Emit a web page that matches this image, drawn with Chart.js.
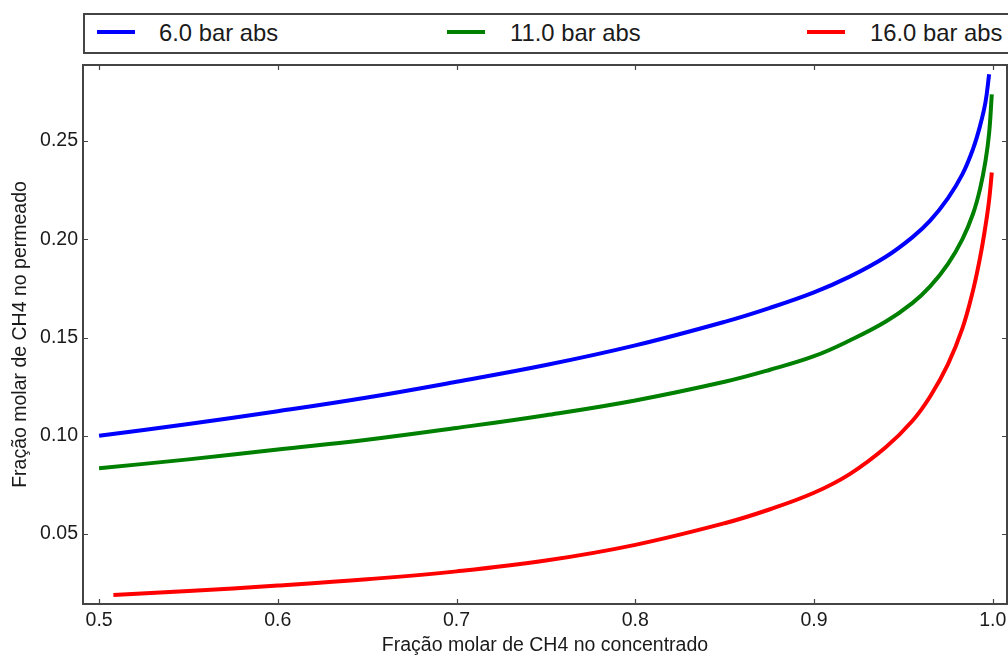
<!DOCTYPE html>
<html>
<head>
<meta charset="utf-8">
<script src="https://cdn.jsdelivr.net/npm/chart.js@4/dist/chart.umd.min.js"></script>
<style>
  html, body { margin: 0; padding: 0; background: #fff; overflow: hidden; }
  #wrap { position: relative; width: 1008px; height: 657px; overflow: hidden; background: #fff; }
  #chart { position: absolute; left: 0; top: 0; }
  #legend { position: absolute; left: 83px; top: 13px; width: 1100px; height: 41px; box-sizing: border-box;
            border: 2px solid #444; background: #fff; }
  .lg-line { position: absolute; height: 4px; width: 38px; top: 30px; }
  .lg-text { position: absolute; top: 18px; font-family: "Liberation Sans", Arial, sans-serif; font-size: 23.8px;
             line-height: 29px; color: #1a1a1a; white-space: nowrap; }
</style>
</head>
<body>
<div id="wrap">
  <canvas id="chart" width="1060" height="657"></canvas>
  <div id="legend"></div>
  <div id="legendItems"></div>
</div>
<script>
// ---- data ----
const seriesLabels = ["6.0 bar abs", "11.0 bar abs", "16.0 bar abs"];
const seriesColors = ["#0000ff", "#008000", "#ff0000"];

const xBlue  = [0.50, 0.55, 0.60, 0.65, 0.70, 0.75, 0.80, 0.85, 0.875, 0.90, 0.92, 0.94, 0.955, 0.965, 0.975, 0.983, 0.989, 0.993, 0.996, 0.998];
const yBlue  = [0.1000, 0.1060, 0.1125, 0.1195, 0.1275, 0.1360, 0.1460, 0.1580, 0.1650, 0.1730, 0.1810, 0.1910, 0.2010, 0.2095, 0.2210, 0.2330, 0.2460, 0.2580, 0.2700, 0.2840];

const xGreen = [0.50, 0.55, 0.60, 0.65, 0.70, 0.75, 0.80, 0.85, 0.875, 0.90, 0.92, 0.94, 0.955, 0.965, 0.975, 0.983, 0.989, 0.993, 0.996, 0.998, 0.9995];
const yGreen = [0.0835, 0.0880, 0.0930, 0.0980, 0.1040, 0.1105, 0.1180, 0.1275, 0.1335, 0.1405, 0.1485, 0.1580, 0.1675, 0.1760, 0.1875, 0.2000, 0.2130, 0.2260, 0.2400, 0.2540, 0.2737];

const xRed   = [0.508, 0.55, 0.60, 0.65, 0.70, 0.75, 0.80, 0.85, 0.875, 0.90, 0.92, 0.94, 0.955, 0.965, 0.975, 0.983, 0.989, 0.993, 0.996, 0.998, 0.9995];
const yRed   = [0.0190, 0.0210, 0.0238, 0.0270, 0.0310, 0.0365, 0.0445, 0.0555, 0.0625, 0.0710, 0.0805, 0.0940, 0.1075, 0.1200, 0.1365, 0.1545, 0.1740, 0.1910, 0.2070, 0.2200, 0.2340];

const xTicks = [0.5, 0.6, 0.7, 0.8, 0.9, 1.0];
const yTicks = [0.05, 0.10, 0.15, 0.20, 0.25];
const xTickLabels = ["0.5", "0.6", "0.7", "0.8", "0.9", "1.0"];
const yTickLabels = ["0.05", "0.10", "0.15", "0.20", "0.25"];

const xTitle = "Fração molar de CH4 no concentrado";
const yTitle = "Fração molar de CH4 no permeado";

// ---- build ----
const toPts = (xs, ys) => xs.map((x, i) => ({ x: x, y: ys[i] }));
const allX = [xBlue, xGreen, xRed];
const allY = [yBlue, yGreen, yRed];

const FONT = '"Liberation Sans", Arial, sans-serif';
const AXIS_COLOR = '#444';

// legend (HTML, real text)
const legendPos = [{ line: 97, text: 159 }, { line: 447, text: 510 }, { line: 807, text: 870 }];
const li = document.getElementById('legendItems');
seriesLabels.forEach((lab, i) => {
  const l = document.createElement('div');
  l.className = 'lg-line';
  l.style.left = legendPos[i].line + 'px';
  l.style.background = seriesColors[i];
  li.appendChild(l);
  const t = document.createElement('div');
  t.className = 'lg-text';
  t.style.left = legendPos[i].text + 'px';
  t.textContent = lab;
  li.appendChild(t);
});

const framePlugin = {
  id: 'frameTicks',
  afterDraw(chart) {
    const { ctx, chartArea: { left, right, top, bottom }, scales: { x, y } } = chart;
    ctx.save();
    ctx.strokeStyle = AXIS_COLOR;
    ctx.lineWidth = 1.2;
    const L = 5;
    ctx.beginPath();
    xTicks.forEach(v => {
      const px = Math.round(x.getPixelForValue(v)) + 0.5;
      ctx.moveTo(px, bottom); ctx.lineTo(px, bottom - L);
      ctx.moveTo(px, top); ctx.lineTo(px, top + L);
    });
    yTicks.forEach(v => {
      const py = Math.round(y.getPixelForValue(v)) + 0.5;
      ctx.moveTo(left, py); ctx.lineTo(left + L, py);
      ctx.moveTo(right, py); ctx.lineTo(right - L, py);
    });
    ctx.stroke();
    ctx.lineWidth = 2;
    ctx.strokeRect(left, top, right - left, bottom - top);
    ctx.restore();
  }
};

new Chart(document.getElementById('chart'), {
  type: 'line',
  data: {
    datasets: seriesLabels.map((lab, i) => ({
      label: lab,
      data: toPts(allX[i], allY[i]),
      borderColor: seriesColors[i],
      backgroundColor: seriesColors[i],
      borderWidth: 4,
      pointRadius: 0,
      fill: false,
      tension: 0.4,
      borderCapStyle: 'butt',
      borderJoinStyle: 'round'
    }))
  },
  options: {
    responsive: false,
    animation: false,
    devicePixelRatio: 1,
    layout: { padding: { left: 0, top: 65, right: 53, bottom: 0 } },
    plugins: { legend: { display: false }, tooltip: { enabled: false } },
    scales: {
      x: {
        type: 'linear',
        min: 0.491, max: 1.008,
        afterBuildTicks: (s) => { s.ticks = xTicks.map(v => ({ value: v })); },
        afterFit: (s) => { s.height = 53; s.paddingLeft = 0; s.paddingRight = 0; },
        grid: { display: false, drawTicks: false },
        border: { display: false },
        ticks: {
          padding: 5,
          color: '#1a1a1a',
          font: { family: FONT, size: 19.5 },
          maxRotation: 0,
          autoSkip: false,
          callback: (v) => { const i = xTicks.findIndex(t => Math.abs(t - v) < 1e-9); return i >= 0 ? xTickLabels[i] : ''; }
        },
        title: { display: true, text: xTitle, color: '#1a1a1a', font: { family: FONT, size: 19.5 }, padding: { top: 0, bottom: 0 } }
      },
      y: {
        type: 'linear',
        min: 0.0144, max: 0.2887,
        afterBuildTicks: (s) => { s.ticks = yTicks.map(v => ({ value: v })); },
        afterFit: (s) => { s.width = 83; },
        grid: { display: false, drawTicks: false },
        border: { display: false },
        ticks: {
          padding: 5,
          color: '#1a1a1a',
          font: { family: FONT, size: 19.5 },
          autoSkip: false,
          callback: (v) => { const i = yTicks.findIndex(t => Math.abs(t - v) < 1e-9); return i >= 0 ? yTickLabels[i] : ''; }
        },
        title: { display: true, text: yTitle, color: '#1a1a1a', font: { family: FONT, size: 19.5 }, padding: { top: 9, bottom: 0 } }
      }
    }
  },
  plugins: [framePlugin]
});
</script>
</body>
</html>
